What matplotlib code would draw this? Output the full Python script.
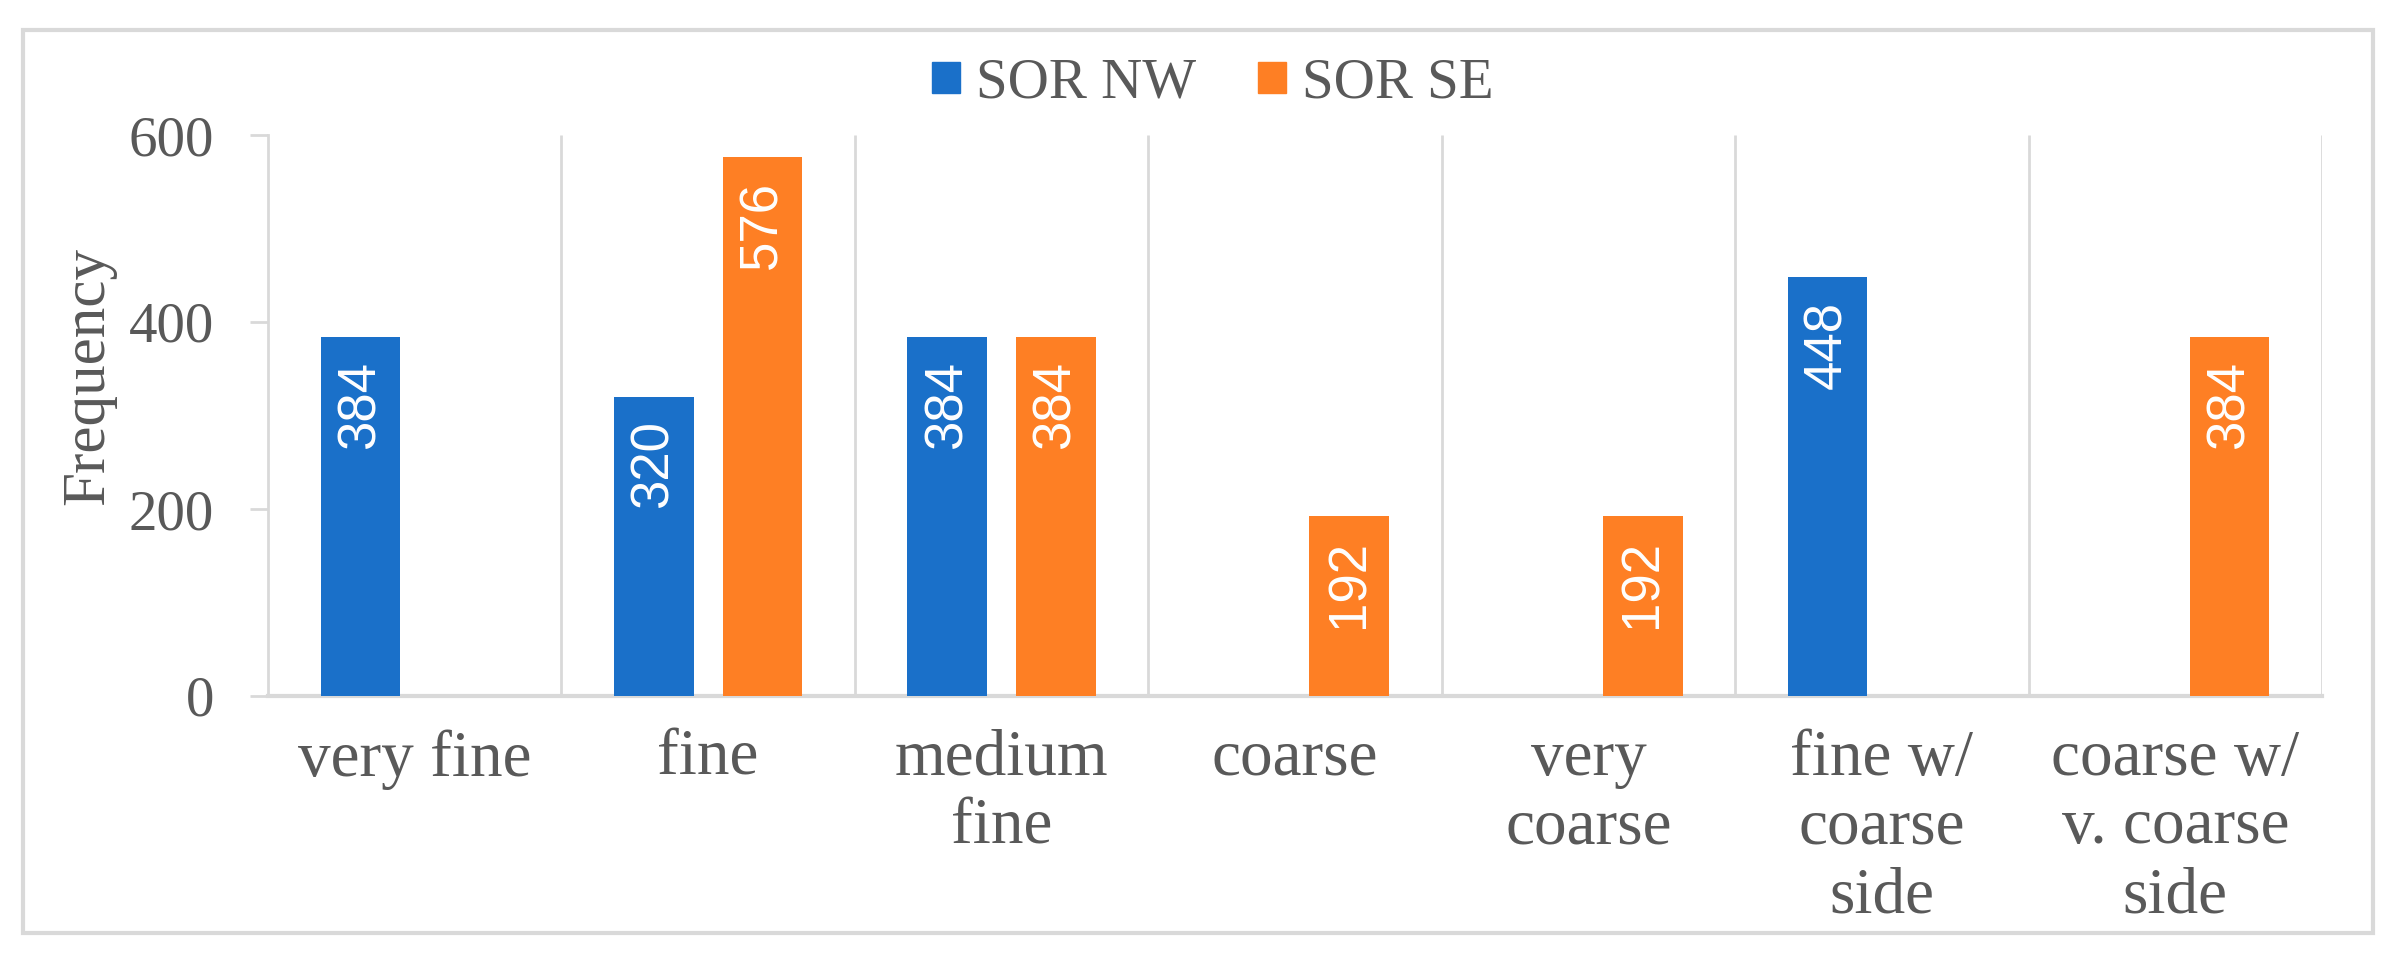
import matplotlib
matplotlib.use('Agg')
import matplotlib.pyplot as plt
import numpy as np
from matplotlib.patches import Rectangle, Patch

categories = ['very fine', 'fine', 'medium\nfine', 'coarse', 'very\ncoarse',
              'fine w/\ncoarse\nside', 'coarse w/\nv. coarse\nside']
sor_nw = [384, 320, 384, 0, 0, 448, 0]
sor_se = [0, 576, 384, 192, 192, 0, 384]
series_names = ['SOR NW', 'SOR SE']
y_ticks = [0, 200, 400, 600]

blue = '#1a70c9'
orange = '#fe7f24'
grid_grey = '#d9d9d9'
text_grey = '#595959'

plt.rcParams['font.family'] = ['Liberation Serif', 'DejaVu Serif']

W, H = 2404, 961
fig = plt.figure(figsize=(W / 100, H / 100), dpi=100)
ax = fig.add_axes([268 / W, 1 - 696 / H, (2322 - 268) / W, (696 - 135) / H])

x = np.arange(len(categories))
bw = 0.272
off = 0.185
b1 = ax.bar(x - off, sor_nw, bw, color=blue, zorder=3)
b2 = ax.bar(x + off, sor_se, bw, color=orange, zorder=3)

# value labels inside the top of each bar
for bars in (b1, b2):
    for rect in bars:
        h = rect.get_height()
        if h > 0:
            ax.annotate(f'{int(h)}', (rect.get_x() + rect.get_width() / 2, h),
                        xytext=(0, -17), textcoords='offset points',
                        rotation=90, ha='center', va='top', color='white',
                        fontsize=38, family=['Liberation Sans'], zorder=4)

# category dividers
ax.vlines(np.arange(0.5, len(categories)), 0, 600, color=grid_grey, lw=2, zorder=1)

ax.set_xlim(-0.5, len(categories) - 0.5)
ax.set_ylim(0, 600)
ax.set_yticks(y_ticks)
ax.set_xticks(x)
ax.set_xticklabels(categories, linespacing=1.2)

for s in ['top', 'right']:
    ax.spines[s].set_visible(False)
ax.spines['left'].set_color(grid_grey)
ax.spines['left'].set_linewidth(2)
ax.spines['bottom'].set_color(grid_grey)
ax.spines['bottom'].set_linewidth(3)

ax.tick_params(axis='y', length=13, width=2, color=grid_grey, pad=26,
               labelsize=41, labelcolor=text_grey)
ax.tick_params(axis='x', length=0, pad=24, labelsize=47, labelcolor=text_grey)

fig.text(88 / W, 1 - 376 / H, 'Frequency', rotation=90, ha='center', va='center',
         fontsize=44, color=text_grey)

handles = [Patch(color=blue), Patch(color=orange)]
fig.legend(handles, series_names, loc='center', bbox_to_anchor=(0.5045, 0.913),
           ncol=2, frameon=False, fontsize=41, handlelength=0.49, handleheight=0.47,
           handletextpad=0.27, columnspacing=1.1, labelcolor=text_grey)

# outer chart border
fig.patches.append(Rectangle((23 / W, 1 - 933 / H), (2373 - 23) / W, (933 - 30) / H,
                             transform=fig.transFigure, fill=False,
                             edgecolor=grid_grey, lw=3))

fig.savefig('out.png', dpi=100)
